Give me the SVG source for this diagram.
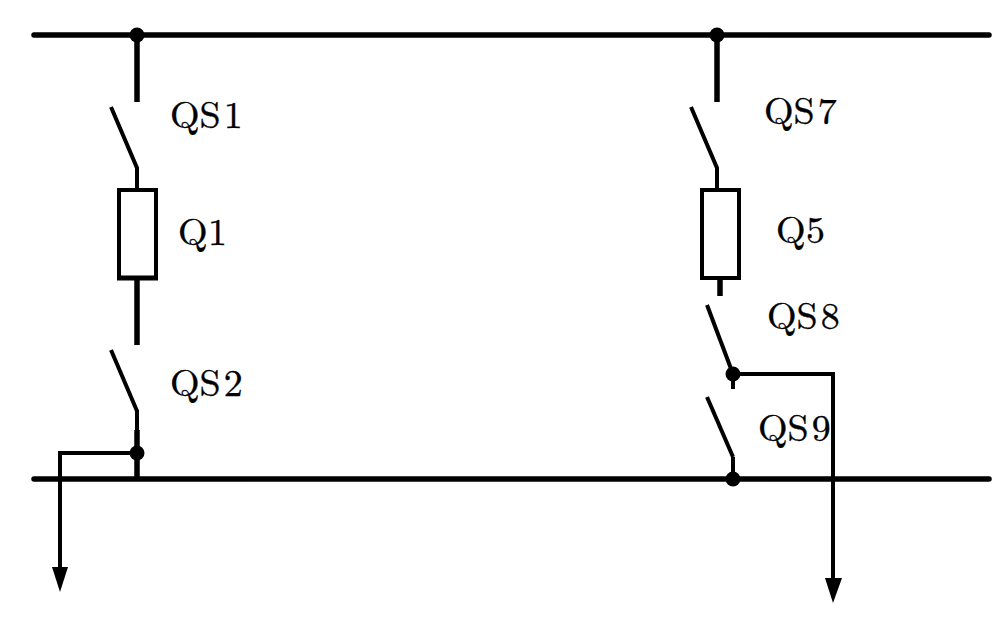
<svg xmlns="http://www.w3.org/2000/svg" width="1003" height="621" viewBox="0 0 1003 621">
<style>
.w{fill:none;stroke:#000;stroke-width:4}
.b{fill:none;stroke:#000;stroke-width:5.5}
.r{stroke-linecap:round}
.n{fill:none;stroke:#000;stroke-width:4}
.d{fill:#000}
text{font-family:"Latin Modern Roman","Liberation Serif",serif;font-size:38px;fill:#000;stroke:#000;stroke-width:.35}
</style>
<rect width="1003" height="621" fill="#fff"/>
<g id="connectors">
<path class="b r" d="M34 35H989"/>
<path class="b r" d="M34 479H989"/>
<path class="b" d="M137 35V102"/>
<path class="b" d="M717 35V102"/>
<path class="b" d="M137 278V345"/>
<path class="w" d="M137 410V432"/>
<path class="b" d="M137 430V479"/>
<path class="w" d="M137 453H60V568"/>
<path class="w" d="M733 374H833V578"/>
<path class="w" d="M733 457V479"/>
<path class="w" d="M733 374V389"/>
<path class="d" d="M52 567H68L60 592Z"/>
<path class="d" d="M825 578H842L833 603Z"/>
</g>
<g id="QS1"><path class="w" d="M111 107L137 168V189"/><text x="170" y="128">QS<tspan dx="3">1</tspan></text></g>
<g id="Q1"><rect class="n" x="119" y="190" width="37" height="88"/><path class="n" d="M117 278H158" style="stroke-width:5"/><text x="178" y="245">Q<tspan dx="0.5">1</tspan></text></g>
<g id="QS2"><path class="w" d="M111 350L137 411"/><text x="170" y="396">QS<tspan dx="3">2</tspan></text></g>
<g id="QS7"><path class="w" d="M691 107L717 168V189"/><text x="764" y="124">QS<tspan dx="3">7</tspan></text></g>
<g id="Q5"><rect class="n" x="702" y="190" width="37" height="88"/><path class="b" d="M720 278V296"/><text x="776" y="243">Q<tspan dx="0.5">5</tspan></text></g>
<g id="QS8"><path class="w" d="M707 305L733 374"/><text x="767" y="329">QS<tspan dx="3">8</tspan></text></g>
<g id="QS9"><path class="w" d="M707 397L733 457"/><text x="758" y="441">QS<tspan dx="3">9</tspan></text></g>
<g id="junctions">
<circle class="d" cx="137" cy="35" r="7.5"/>
<circle class="d" cx="717" cy="35" r="7.5"/>
<circle class="d" cx="137" cy="453" r="7.5"/>
<circle class="d" cx="733" cy="374" r="7.5"/>
<circle class="d" cx="733" cy="479" r="7.5"/>
</g>
</svg>
